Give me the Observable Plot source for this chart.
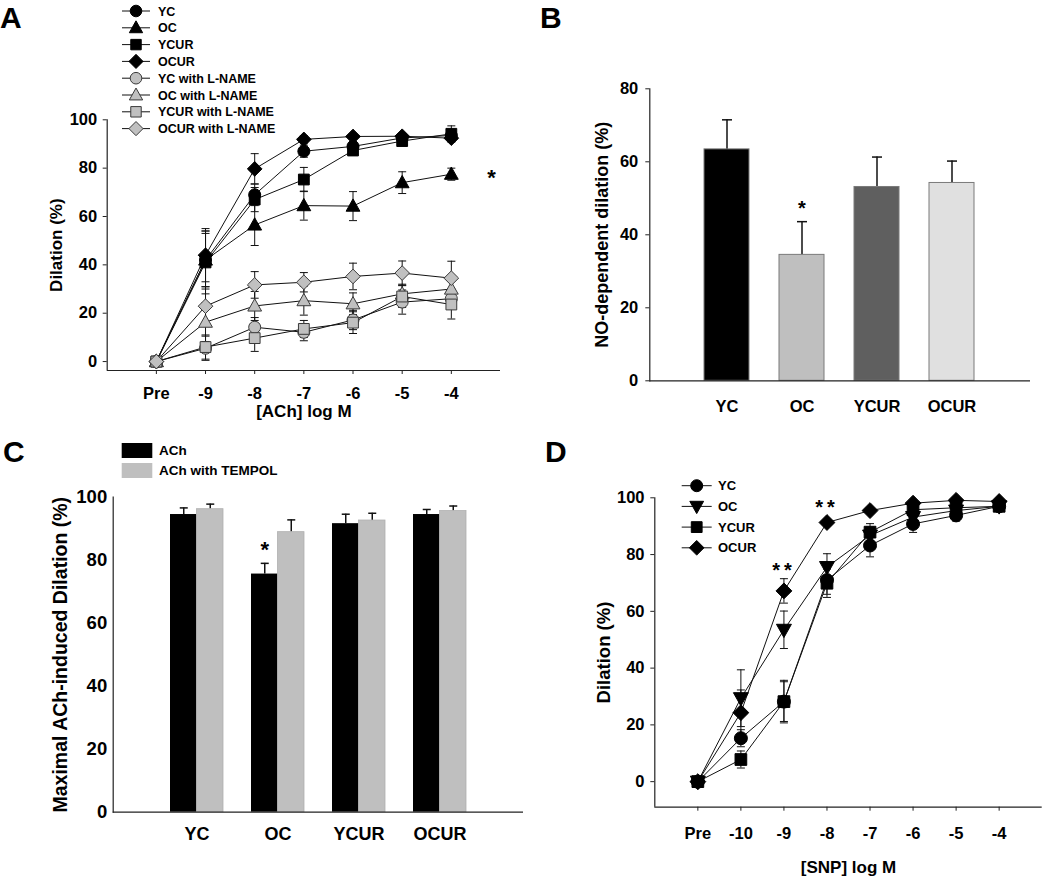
<!DOCTYPE html>
<html>
<head>
<meta charset="utf-8">
<script src="https://cdn.jsdelivr.net/npm/d3@7"></script>
<script src="https://cdn.jsdelivr.net/npm/@observablehq/plot@0.6"></script>
<style>
  body { margin: 0; background: #fff; }
  #fig { position: relative; width: 1050px; height: 877px; overflow: hidden; background: #fff; }
  .panel { position: absolute; }
  #overlay { position: absolute; left: 0; top: 0; pointer-events: none; }
  #panelD g[aria-label="text"] text { letter-spacing: 4px; }
</style>
</head>
<body>
<div id="fig"></div>
<script>
// ================= DATA =================
// Panel A: ACh dose response (x categories)
const doseLabelsA = ["Pre", "-9", "-8", "-7", "-6", "-5", "-4"];
const seriesNamesA = ["YC", "OC", "YCUR", "OCUR", "YC with L-NAME", "OC with L-NAME", "YCUR with L-NAME", "OCUR with L-NAME"];
const aYC       = [0, 42, 69, 87, 89, 92.5, 93.5];
const aYCErr    = [0, 11, 4.5, 2.5, 2, 1.5, 2];
const aOC       = [0, 42, 56.5, 64.5, 64.3, 74, 77.5];
const aOCErr    = [0, 12, 8.5, 6, 6, 4.5, 2.5];
const aYCUR     = [0, 41, 67, 75.3, 87.3, 91.2, 94.2];
const aYCURErr  = [0, 13, 5, 5, 2, 1.5, 3.3];
const aOCUR     = [0, 44, 79.7, 91.9, 93.1, 93.2, 92.4];
const aOCURErr  = [0, 11, 6.3, 1.5, 1, 1, 1.5];
const aYCL      = [0, 5.5, 14.2, 12.1, 17.2, 24.6, 26];
const aYCLErr   = [0, 5, 4, 3.5, 4, 5, 4];
const aOCL      = [0, 16.3, 23, 25.2, 23.9, 28, 30];
const aOCLErr   = [0, 8, 6, 6, 4.5, 4, 4];
const aYCURL    = [0, 6, 9.7, 13.5, 16.1, 26.9, 23.6];
const aYCURLErr = [0, 5, 5.5, 3.5, 4.5, 4.5, 6];
const aOCURL    = [0, 22.9, 31.7, 32.8, 35.2, 36.6, 34.5];
const aOCURLErr = [0, 8, 5.5, 4, 5.5, 5, 7];
const starAx = [6.82], starAy = [78.3], starAt = ["*"];

// Panel B: NO-dependent dilation
const groupsB = ["YC", "OC", "YCUR", "OCUR"];
const valuesB = [63.4, 34.5, 53.1, 54.2];
const errorsB = [8.1, 9.1, 8.2, 6.0];
const starBx = ["OC"], starBy = [48.9], starBt = ["*"];

// Panel C: maximal ACh-induced dilation
const groupsC = ["YC", "OC", "YCUR", "OCUR"];
const seriesC = ["ACh", "ACh with TEMPOL"];
const achC = [94.5, 75.6, 91.6, 94.5];
const achErrC = [2.1, 3.4, 3.0, 1.6];
const tempolC = [96.2, 88.9, 92.6, 95.6];
const tempolErrC = [1.6, 3.9, 2.3, 1.6];
const starCx = ["OC"], starCy = [85], starCt = ["*"];

// Panel D: SNP dose response
const doseLabelsD = ["Pre", "-10", "-9", "-8", "-7", "-6", "-5", "-4"];
const seriesNamesD = ["YC", "OC", "YCUR", "OCUR"];
const dYC      = [0, 15.3, 28.2, 71, 83.2, 90.8, 93.8, 97];
const dYCErr   = [0, 3, 7, 5, 4, 3, 2, 1];
const dOC      = [0, 29.4, 53.5, 75.6, 86.7, 93.2, 95.5, 97];
const dOCErr   = [0, 10, 6.6, 4.7, 3, 2, 1.5, 1];
const dYCUR    = [0, 7.8, 28.2, 69.9, 87.9, 95.8, 96.5, 97];
const dYCURErr = [0, 3, 7.5, 5, 3, 1.5, 1.5, 1];
const dOCUR    = [0, 24.3, 67.2, 91.3, 95.5, 98.1, 99.1, 98.7];
const dOCURErr = [0, 8, 4.3, 1, 1, 1, 0.8, 0.8];
const starDx = [2, 3], starDy = [76.5, 98.8], starDt = ["**", "**"];

// ================= STYLE =================
const FONT = '"Liberation Sans", Arial, Helvetica, sans-serif';
const AXIS = "#222";

function shape(kind) {
  return {
    draw(ctx, size) {
      const r = Math.sqrt(size / Math.PI);
      if (kind === "circle") { ctx.moveTo(r, 0); ctx.arc(0, 0, r, 0, 2 * Math.PI); }
      else if (kind === "square") { const h = 0.9 * r; ctx.moveTo(-h, -h); ctx.lineTo(h, -h); ctx.lineTo(h, h); ctx.lineTo(-h, h); ctx.closePath(); }
      else if (kind === "diamond") { const d = 1.22 * r; ctx.moveTo(0, -d); ctx.lineTo(d, 0); ctx.lineTo(0, d); ctx.lineTo(-d, 0); ctx.closePath(); }
      else if (kind === "triangle") { ctx.moveTo(0, -1.2 * r); ctx.lineTo(1.15 * r, 0.85 * r); ctx.lineTo(-1.15 * r, 0.85 * r); ctx.closePath(); }
      else if (kind === "triangleDown") { ctx.moveTo(0, 1.2 * r); ctx.lineTo(1.15 * r, -0.85 * r); ctx.lineTo(-1.15 * r, -0.85 * r); ctx.closePath(); }
      else if (kind === "cap") { ctx.moveTo(-r, 0); ctx.lineTo(r, 0); }
    }
  };
}
const CAP = shape("cap");

const styleA = {
  "YC": {shape: "circle", fill: "#000", stroke: "#000"},
  "OC": {shape: "triangle", fill: "#000", stroke: "#000"},
  "YCUR": {shape: "square", fill: "#000", stroke: "#000"},
  "OCUR": {shape: "diamond", fill: "#000", stroke: "#000"},
  "YC with L-NAME": {shape: "circle", fill: "#c0c0c0", stroke: "#3a3a3a"},
  "OC with L-NAME": {shape: "triangle", fill: "#c0c0c0", stroke: "#3a3a3a"},
  "YCUR with L-NAME": {shape: "square", fill: "#c0c0c0", stroke: "#3a3a3a"},
  "OCUR with L-NAME": {shape: "diamond", fill: "#c0c0c0", stroke: "#3a3a3a"}
};
const styleD = {
  "YC": {shape: "circle", fill: "#000", stroke: "#000"},
  "OC": {shape: "triangleDown", fill: "#000", stroke: "#000"},
  "YCUR": {shape: "square", fill: "#000", stroke: "#000"},
  "OCUR": {shape: "diamond", fill: "#000", stroke: "#000"}
};
const colorsB = {YC: "#000000", OC: "#bfbfbf", YCUR: "#5f5f5f", OCUR: "#e0e0e0"};
const colorsC = {"ACh": "#000000", "ACh with TEMPOL": "#bfbfbf"};

function baseStyle(size) {
  return {fontFamily: FONT, fontWeight: "bold", fontSize: size + "px", color: "#000", background: "transparent", overflow: "visible"};
}
function rowsOf(name, vals, errs) { return vals.map((v, i) => ({series: name, i, v, e: errs[i]})); }

const fig = document.getElementById("fig");
function place(node, left, top, id) {
  node.classList.add("panel");
  node.style.left = left + "px";
  node.style.top = top + "px";
  if (id) node.id = id;
  fig.appendChild(node);
}

function doseMarks(rows, names, styles, xDomain, yDomain, r) {
  const err = rows.filter(d => d.e > 0);
  return [
    Plot.ruleX(err, {x: "i", y1: d => d.v - d.e, y2: d => d.v + d.e, stroke: "#111", strokeWidth: 1}),
    Plot.dot(err, {x: "i", y: d => d.v + d.e, symbol: CAP, r: 4, stroke: "#111", fill: "none", strokeWidth: 1}),
    Plot.dot(err, {x: "i", y: d => d.v - d.e, symbol: CAP, r: 4, stroke: "#111", fill: "none", strokeWidth: 1}),
    Plot.line(rows, {x: "i", y: "v", z: "series", stroke: "#111", strokeWidth: 1}),
    ...names.map(n => Plot.dot(rows.filter(d => d.series === n), {
      x: "i", y: "v", symbol: shape(styles[n].shape), r, fill: styles[n].fill, stroke: styles[n].stroke, strokeWidth: 1
    })),
    Plot.ruleX([xDomain[0]], {stroke: AXIS, strokeWidth: 1.2}),
    Plot.ruleY([yDomain[0]], {stroke: AXIS, strokeWidth: 1.2})
  ];
}

// ================= PANEL A =================
const seriesA = [
  [seriesNamesA[0], aYC, aYCErr], [seriesNamesA[1], aOC, aOCErr],
  [seriesNamesA[2], aYCUR, aYCURErr], [seriesNamesA[3], aOCUR, aOCURErr],
  [seriesNamesA[4], aYCL, aYCLErr], [seriesNamesA[5], aOCL, aOCLErr],
  [seriesNamesA[6], aYCURL, aYCURLErr], [seriesNamesA[7], aOCURL, aOCURLErr]
];
const rowsA = seriesA.flatMap(([n, v, e]) => rowsOf(n, v, e));
const xDomA = [-1, 7], yDomA = [-3.7, 100];
const starsA = starAx.map((x, k) => ({x, y: starAy[k], t: starAt[k]}));
const plotA = Plot.plot({
  width: 520, height: 420,
  marginLeft: 106.7, marginRight: 20, marginTop: 119.3, marginBottom: 50,
  x: {domain: xDomA}, y: {domain: yDomA},
  style: baseStyle(16.5),
  marks: [
    ...doseMarks(rowsA, seriesNamesA, styleA, xDomA, yDomA, 6),
    Plot.axisX({ticks: d3.range(doseLabelsA.length), tickFormat: i => doseLabelsA[i], tickSize: 4, tickPadding: 12.5, label: null, stroke: AXIS}),
    Plot.axisX({ticks: [], label: "[ACh] log M", labelAnchor: "center", labelArrow: "none", labelOffset: 46.5, fontSize: 17}),
    Plot.axisY({ticks: [0, 20, 40, 60, 80, 100], tickSize: 4, tickPadding: 6, label: null, stroke: AXIS}),
    Plot.axisY({ticks: [], label: "Dilation (%)", labelAnchor: "center", labelArrow: "none", labelOffset: 57, fontSize: 17}),
    Plot.text(starsA, {x: "x", y: "y", text: "t", fontSize: 22, dy: 6})
  ]
});
place(plotA, 0, 0, "panelA");

// ================= PANEL B =================
const rowsB = groupsB.map((g, k) => ({g, v: valuesB[k], e: errorsB[k]}));
const starsB = starBx.map((x, k) => ({x, y: starBy[k], t: starBt[k]}));
const plotB = Plot.plot({
  width: 530, height: 420,
  marginLeft: 129.3, marginRight: 20, marginTop: 88.3, marginBottom: 39.7,
  x: {domain: groupsB, paddingInner: 0.395, paddingOuter: 0.72},
  y: {domain: [0, 80]},
  color: {type: "identity"},
  style: baseStyle(16.5),
  marks: [
    Plot.ruleX(rowsB, {x: "g", y1: "v", y2: d => d.v + d.e, stroke: "#111", strokeWidth: 1.5}),
    Plot.dot(rowsB, {x: "g", y: d => d.v + d.e, symbol: CAP, r: 5, stroke: "#111", fill: "none", strokeWidth: 1.5}),
    Plot.barY(rowsB, {x: "g", y: "v", fill: d => colorsB[d.g], stroke: "#7a7a7a", strokeWidth: 1}),
    Plot.ruleY([0], {stroke: AXIS, strokeWidth: 1.2}),
    Plot.frame({anchor: "left", stroke: AXIS, strokeWidth: 1.2}),
    Plot.axisX({tickSize: 0, tickPadding: 19.5, label: null}),
    Plot.axisY({ticks: [0, 20, 40, 60, 80], tickSize: 4, tickPadding: 7.5, label: null, stroke: AXIS}),
    Plot.axisY({ticks: [], label: "NO-dependent dilation (%)", labelAnchor: "center", labelArrow: "none", labelOffset: 55, fontSize: 18}),
    Plot.text(starsB, {x: "x", y: "y", text: "t", fontSize: 20, dy: 6})
  ]
});
place(plotB, 520, 0, "panelB");

// ================= PANEL C =================
const cLeft = 112.7, cRight = 7, cWidth = 530;
const cPadIn = 0.35, cPadOut = 0.69;
const cStep = (cWidth - cLeft - cRight) / (groupsC.length - cPadIn + 2 * cPadOut);
const cBand = cStep * (1 - cPadIn);
const rowsCach = groupsC.map((g, k) => ({g, s: seriesC[0], v: achC[k], e: achErrC[k]}));
const rowsCtem = groupsC.map((g, k) => ({g, s: seriesC[1], v: tempolC[k], e: tempolErrC[k]}));
const starsC = starCx.map((x, k) => ({x, y: starCy[k], t: starCt[k]}));
function errMarksC(rows, dx) {
  return [
    Plot.ruleX(rows, {x: "g", y1: "v", y2: d => d.v + d.e, dx, stroke: "#111", strokeWidth: 1.5}),
    Plot.dot(rows, {x: "g", y: d => d.v + d.e, dx, symbol: CAP, r: 4, stroke: "#111", fill: "none", strokeWidth: 1.5})
  ];
}
const plotC = Plot.plot({
  width: cWidth, height: 457,
  marginLeft: cLeft, marginRight: cRight, marginTop: 76.7, marginBottom: 65.3,
  x: {domain: groupsC, paddingInner: cPadIn, paddingOuter: cPadOut},
  y: {domain: [0, 100]},
  color: {type: "identity"},
  style: baseStyle(18.5),
  marks: [
    ...errMarksC(rowsCach, -cBand / 4),
    ...errMarksC(rowsCtem, cBand / 4),
    Plot.barY(rowsCach, {x: "g", y: "v", fill: d => colorsC[d.s], insetRight: cBand / 2}),
    Plot.barY(rowsCtem, {x: "g", y: "v", fill: d => colorsC[d.s], insetLeft: cBand / 2, stroke: "#b0b0b0", strokeWidth: 0.8}),
    Plot.ruleY([0], {stroke: AXIS, strokeWidth: 1.2}),
    Plot.frame({anchor: "left", stroke: AXIS, strokeWidth: 1.2}),
    Plot.axisX({tickSize: 0, tickPadding: 15, label: null, fontSize: 18}),
    Plot.axisY({ticks: [0, 20, 40, 60, 80, 100], tickSize: 0, tickPadding: 6, label: null}),
    Plot.axisY({ticks: [], label: "Maximal ACh-induced Dilation (%)", labelAnchor: "center", labelArrow: "none", labelOffset: 60, fontSize: 19.5}),
    Plot.text(starsC, {x: "x", y: "y", text: "t", dx: -cBand / 4, fontSize: 22, dy: 6})
  ]
});
place(plotC, 0, 420, "panelC");

// ================= PANEL D =================
const seriesD = [
  [seriesNamesD[0], dYC, dYCErr], [seriesNamesD[1], dOC, dOCErr],
  [seriesNamesD[2], dYCUR, dYCURErr], [seriesNamesD[3], dOCUR, dOCURErr]
];
const rowsD = seriesD.flatMap(([n, v, e]) => rowsOf(n, v, e));
const xDomD = [-1, 8], yDomD = [-9, 100];
const starsD = starDx.map((x, k) => ({x, y: starDy[k], t: starDt[k]}));
const plotD = Plot.plot({
  width: 530, height: 457,
  marginLeft: 134.3, marginRight: 8.3, marginTop: 77.3, marginBottom: 70.3,
  x: {domain: xDomD}, y: {domain: yDomD},
  style: baseStyle(16.5),
  marks: [
    ...doseMarks(rowsD, seriesNamesD, styleD, xDomD, yDomD, 6.5),
    Plot.axisX({ticks: d3.range(doseLabelsD.length), tickFormat: i => doseLabelsD[i], tickSize: 4, tickPadding: 16.5, label: null, stroke: AXIS}),
    Plot.axisX({ticks: [], label: "[SNP] log M", labelAnchor: "center", labelArrow: "none", labelOffset: 66, fontSize: 17}),
    Plot.axisY({ticks: [0, 20, 40, 60, 80, 100], tickSize: 4, tickPadding: 6.3, label: null, stroke: AXIS}),
    Plot.axisY({ticks: [], label: "Dilation (%)", labelAnchor: "center", labelArrow: "none", labelOffset: 58, fontSize: 18.5}),
    Plot.text(starsD, {x: "x", y: "y", text: "t", fontSize: 20, dy: 6})
  ]
});
place(plotD, 520, 420, "panelD");

// ================= OVERLAY: panel letters & legends =================
const ov = d3.select(fig).append("svg").attr("id", "overlay").attr("width", 1050).attr("height", 877)
  .style("font-family", FONT).style("font-weight", "bold");

[["A", 0, 28], ["B", 540, 28], ["C", 3, 461.7], ["D", 545, 461.7]].forEach(([t, x, y]) => {
  ov.append("text").attr("x", x).attr("y", y).text(t)
    .style("font-family", FONT).style("font-weight", 700).style("font-size", "30px").attr("fill", "#000");
});

function symbolPath(kind, r) {
  const p = d3.path();
  shape(kind).draw(p, Math.PI * r * r);
  return p.toString();
}
function lineLegend(names, styles, o) {
  const g = ov.append("g");
  names.forEach((n, k) => {
    const y = o.y0 + k * o.dy;
    g.append("line").attr("x1", o.x1).attr("x2", o.x2).attr("y1", y).attr("y2", y).attr("stroke", "#111").attr("stroke-width", 1);
    g.append("path").attr("d", symbolPath(styles[n].shape, o.r)).attr("transform", `translate(${(o.x1 + o.x2) / 2},${y})`)
      .attr("fill", styles[n].fill).attr("stroke", styles[n].stroke).attr("stroke-width", 1);
    g.append("text").attr("x", o.tx).attr("y", y).attr("dy", "0.36em").text(n)
      .style("font-size", o.fs + "px").attr("fill", "#000");
  });
}
lineLegend(seriesNamesA, styleA, {x1: 122, x2: 150, y0: 11, dy: 16.8, r: 5.8, tx: 158, fs: 12.5});
lineLegend(seriesNamesD, styleD, {x1: 681.7, x2: 711.7, y0: 485.7, dy: 20.7, r: 6, tx: 718, fs: 13});

// Panel C legend (swatches)
seriesC.forEach((n, k) => {
  const y = 443 + k * 20;
  ov.append("rect").attr("x", 121.7).attr("y", y).attr("width", 30.6).attr("height", 15).attr("fill", colorsC[n]);
  ov.append("text").attr("x", 159).attr("y", y + 7.5).attr("dy", "0.36em").text(n)
    .style("font-size", "13.5px").attr("fill", "#000");
});
</script>
</body>
</html>
